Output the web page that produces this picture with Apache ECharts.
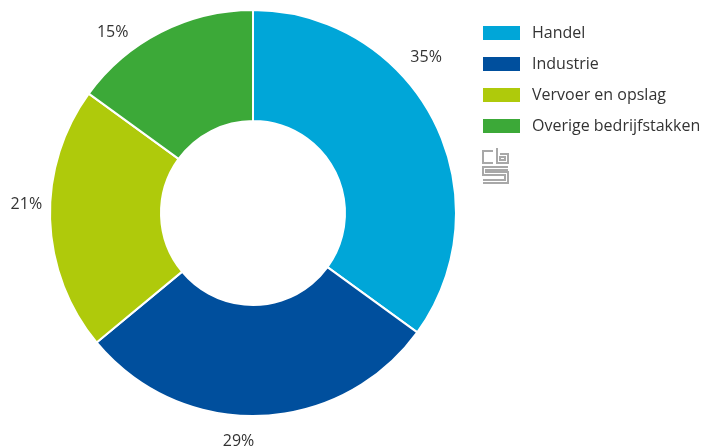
<!DOCTYPE html>
<html>
<head>
<meta charset="utf-8">
<script src="https://cdn.jsdelivr.net/npm/echarts@6/dist/echarts.min.js"></script>
<style>
  html, body { margin: 0; padding: 0; background: #fff; }
  #chart { width: 709px; height: 447px; }
</style>
</head>
<body>
<div id="chart"></div>
<script>
// aandeel per bedrijfstak (%)
var categories = ['Handel', 'Industrie', 'Vervoer en opslag', 'Overige bedrijfstakken'];
var shares = [35, 29, 21, 15];
var colors = ['#00a6d8', '#004f9d', '#afca0b', '#3ca938'];
// verschuiving van de percentage-labels t.o.v. standaardpositie
var labelShift = [[-45, -57], [-46, 12], [15, -15], [-17, 13]];

var pieData = [];
for (var i = 0; i < categories.length; i++) {
    pieData.push({ name: categories[i], value: shares[i], itemStyle: { color: colors[i] } });
}

var logoStroke = { stroke: '#a8a8a8', lineWidth: 2, fill: null };

var myChart = echarts.init(document.getElementById('chart'));
var options = {
    animation: false,
    textStyle: { fontFamily: 'Open Sans' },
    legend: {
        orient: 'vertical',
        left: 476,
        top: 19,
        itemWidth: 39,
        itemHeight: 16,
        itemGap: 13,
        icon: 'rect',
        selectedMode: false,
        textStyle: { fontSize: 16, color: '#333', padding: [0, 0, 0, 6] },
        data: categories
    },
    // cbs logo
    graphic: [
        { type: 'polyline', shape: { points: [[493, 151], [483, 151], [483, 163], [493, 163]] }, style: logoStroke },
        { type: 'polyline', shape: { points: [[497, 148], [497, 163], [508, 163], [508, 154], [500, 154]] }, style: logoStroke },
        { type: 'rect', shape: { x: 500, y: 157, width: 5, height: 3 }, style: logoStroke },
        { type: 'polyline', shape: { points: [[508, 167], [483, 167], [483, 175], [505, 175], [505, 180], [483, 180]] }, style: logoStroke },
        { type: 'polyline', shape: { points: [[483, 183], [508, 183], [508, 172], [486, 172], [486, 170], [508, 170]] }, style: logoStroke }
    ],
    series: [
        {
            name: 'Bedrijfstak',
            type: 'pie',
            center: [253, 213],
            radius: [92, 203],
            startAngle: 90,
            clockwise: true,
            avoidLabelOverlap: false,
            itemStyle: { borderColor: '#fff', borderWidth: 2 },
            label: {
                show: true,
                position: 'outside',
                formatter: '{c}%',
                fontSize: 16,
                color: '#333'
            },
            labelLine: { show: false, length: 14, length2: 4 },
            labelLayout: function (p) {
                var s = labelShift[p.dataIndex];
                return { dx: s[0], dy: s[1] };
            },
            emphasis: { disabled: true },
            data: pieData
        }
    ]
};
myChart.setOption(options);
</script>
</body>
</html>
